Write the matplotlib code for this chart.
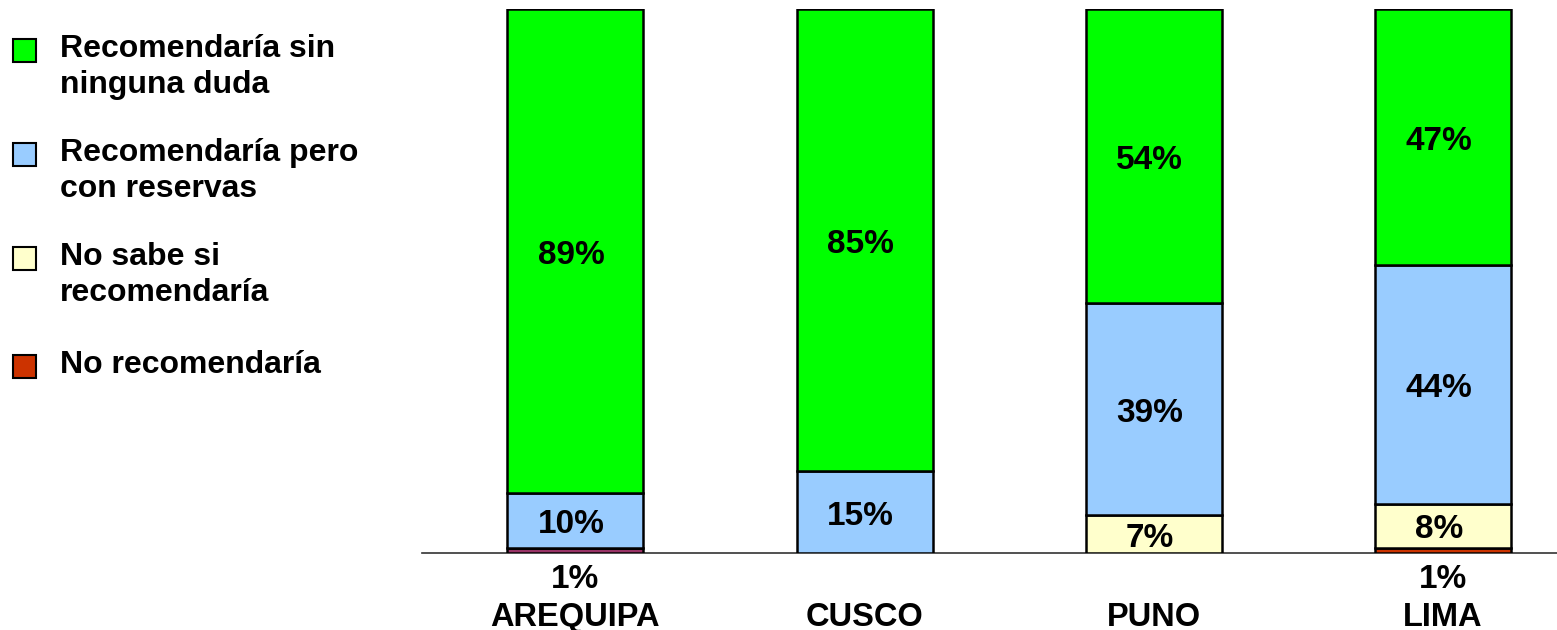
import matplotlib
matplotlib.use("Agg")
import matplotlib.pyplot as plt
from matplotlib.patches import Rectangle
import numpy as np

plt.rcParams['font.family'] = ['Liberation Sans', 'DejaVu Sans']
plt.rcParams['font.weight'] = 'bold'

categories = ["AREQUIPA", "CUSCO", "PUNO", "LIMA"]
series_names = ["Recomendaría sin\nninguna duda",
                "Recomendaría pero\ncon reservas",
                "No sabe si\nrecomendaría",
                "No recomendaría"]
no_recomendaria = [1, 0, 0, 1]
no_sabe = [0, 0, 7, 8]
con_reservas = [10, 15, 39, 44]
sin_duda = [89, 85, 54, 47]

colors = ["#00FF00", "#99CCFF", "#FFFFCC", "#CC3300"]
no_rec_bar_colors = ["#993366", "#CC3300", "#CC3300", "#CC3300"]

fig = plt.figure(figsize=(15.57, 6.3), dpi=100)
ax = fig.add_axes([422/1557, 77/630, 1 - 422/1557, 544/630])

x = np.arange(len(categories))
w = 0.47
stack = [(no_recomendaria, no_rec_bar_colors),
         (no_sabe, [colors[2]] * 4),
         (con_reservas, [colors[1]] * 4),
         (sin_duda, [colors[0]] * 4)]
bottom = np.zeros(len(categories))
for vals, cols in stack:
    vals = np.array(vals, dtype=float)
    ax.bar(x, vals, w, bottom=bottom, color=cols, edgecolor="black",
           linewidth=1.8, zorder=3)
    for i, v in enumerate(vals):
        if v <= 0:
            continue
        if v <= 2:
            ax.annotate(f"{int(v)}%", (x[i], 0), xytext=(0, -19),
                        textcoords="offset points", ha="center", va="center",
                        fontsize=24, fontweight="bold")
        else:
            ax.annotate(f"{int(v)}%", (x[i], bottom[i] + v / 2),
                        xytext=(-3, -3), textcoords="offset points",
                        ha="center", va="center", fontsize=24,
                        fontweight="bold", zorder=4)
    bottom += vals

ax.set_xlim(-0.53, 3.394)
ax.set_ylim(0, 100)
ax.set_xticks(x)
ax.set_xticklabels(categories, fontsize=23.5, fontweight="bold")
ax.tick_params(axis="x", length=0, pad=35)
ax.set_yticks([])
for s in ["top", "right", "left"]:
    ax.spines[s].set_visible(False)
ax.spines["bottom"].set_color("#333333")
ax.spines["bottom"].set_linewidth(1.2)
ax.patch.set_alpha(0)

# legend drawn manually
square_centers_y = [50, 154, 258, 366]
for name, col, cy in zip(series_names, colors, square_centers_y):
    sq = 23
    fig.patches.append(Rectangle((13 / 1557, 1 - (cy + sq / 2) / 630),
                                 sq / 1557, sq / 630, transform=fig.transFigure,
                                 facecolor=col, edgecolor="black", linewidth=1.5))
    fig.text(60 / 1557, 1 - (cy - 16) / 630, name, ha="left", va="top",
             fontsize=23, fontweight="bold", linespacing=1.28)

fig.savefig("out.png", dpi=100)
